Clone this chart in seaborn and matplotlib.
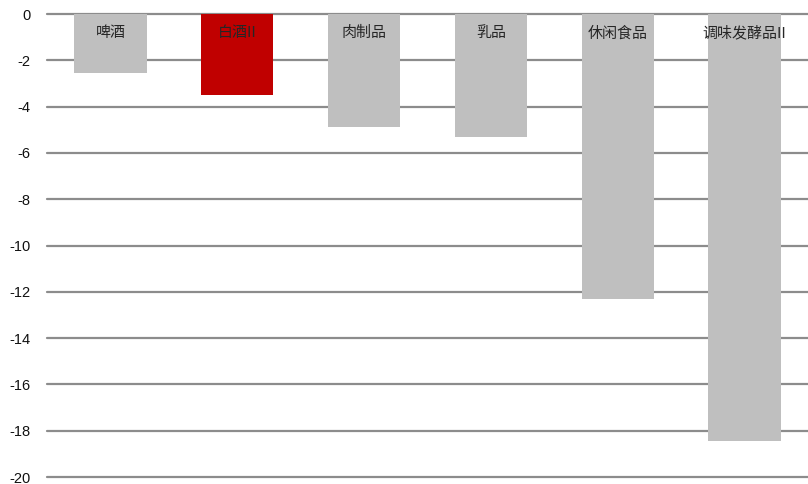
import matplotlib
matplotlib.use("Agg")
import matplotlib.pyplot as plt
import seaborn as sns
import pandas as pd

# 数据
categories = ["啤酒", "白酒II", "肉制品", "乳品", "休闲食品", "调味发酵品II"]
values = [-2.55, -3.5, -4.88, -5.31, -12.31, -18.44]
bar_colors = ["#BFBFBF", "#C00000", "#BFBFBF", "#BFBFBF", "#BFBFBF", "#BFBFBF"]
y_ticks = [0, -2, -4, -6, -8, -10, -12, -14, -16, -18, -20]

sns.set_theme(style="white")
plt.rcParams["font.family"] = ["Liberation Sans", "Noto Sans CJK SC", "DejaVu Sans"]

df = pd.DataFrame({"品类": categories, "涨跌幅": values})

fig = plt.figure(figsize=(8.08, 4.84), dpi=100)
ax = fig.add_axes([47 / 808, 1 - 477 / 484, 1 - 47 / 808, (477 - 14) / 484])

sns.barplot(data=df, x="品类", y="涨跌幅", hue="品类", palette=bar_colors,
            width=0.57, legend=False, ax=ax, zorder=3, saturation=1,
            linewidth=0, edgecolor="none")

ax.set_ylim(-20, 0)
ax.set_xlim(-0.5, len(categories) - 0.5)
ax.set_yticks(y_ticks)
ax.set_yticklabels([str(t) for t in y_ticks], fontsize=10.5, color="#111111")
ax.set_xticks([])
ax.set_xlabel("")
ax.set_ylabel("")
ax.tick_params(axis="y", length=0, pad=12)

ax.yaxis.grid(True, color="#8C8C8C", linewidth=1.6, zorder=0)
ax.set_axisbelow(True)
for line in ax.get_ygridlines():
    line.set_clip_on(False)

for s in ax.spines.values():
    s.set_visible(False)

# 品类标签放在柱子顶部内
for i, name in enumerate(categories):
    ax.text(i, -0.82, name, ha="center", va="center", fontsize=10.8,
            color="#262626", family=["Noto Sans CJK SC", "DejaVu Sans"], zorder=4)

plt.savefig("out.png", dpi=100)
plt.close()
